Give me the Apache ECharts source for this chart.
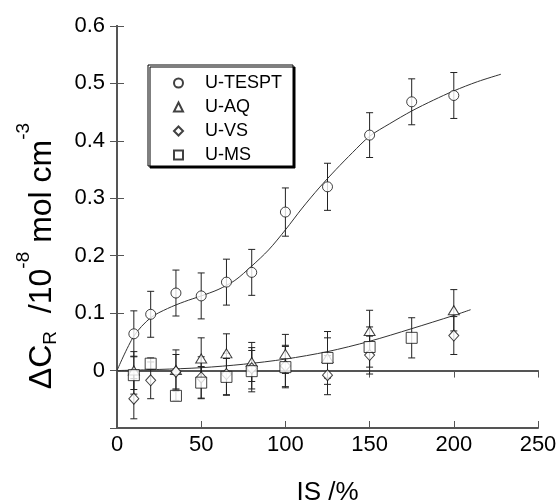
<!DOCTYPE html>
<html>
<head>
<meta charset="utf-8">
<script src="https://cdn.jsdelivr.net/npm/echarts@6/dist/echarts.min.js"></script>
<style>
  html, body { margin: 0; padding: 0; background: #fff; }
  #main { width: 558px; height: 502px; }
</style>
</head>
<body>
<div id="main"></div>
<script>
// data
var xTespt = [10, 20, 35, 50, 65, 80, 100, 125, 150, 175, 200];
var yTespt = [0.064, 0.098, 0.135, 0.130, 0.154, 0.171, 0.276, 0.320, 0.410, 0.468, 0.479];
var eTespt = [0.040, 0.040, 0.040, 0.040, 0.040, 0.040, 0.042, 0.041, 0.039, 0.040, 0.040];

var xAq = [10, 35, 50, 65, 80, 100, 125, 150, 200];
var yAq = [0.000, 0.001, 0.021, 0.030, 0.015, 0.029, 0.022, 0.069, 0.105];
var eAq = [0.033, 0.035, 0.036, 0.034, 0.034, 0.034, 0.046, 0.036, 0.036];

var xVs = [10, 20, 35, 50, 65, 80, 100, 125, 150, 200];
var yVs = [-0.049, -0.017, -0.002, -0.012, -0.006, 0.004, 0.008, -0.008, 0.027, 0.061];
var eVs = [0.035, 0.032, 0.030, 0.036, 0.036, 0.036, 0.036, 0.034, 0.033, 0.033];

var xMs = [10, 20, 35, 50, 65, 80, 100, 125, 150, 175];
var yMs = [-0.008, 0.012, -0.044, -0.021, -0.011, -0.001, 0.006, 0.022, 0.041, 0.057];
var eMs = [0.033, 0.010, 0.008, 0.028, 0.032, 0.036, 0.036, 0.035, 0.035, 0.035];

// fitted curves, points
var fitTesptX = [0, 10, 20, 30, 40, 50, 60, 70, 80, 90, 100, 110, 120, 130, 140, 150, 162, 175, 188, 200, 214, 228];
var fitTesptY = [0, 0.060, 0.092, 0.108, 0.120, 0.130, 0.141, 0.157, 0.182, 0.210, 0.245, 0.283, 0.318, 0.350, 0.380, 0.408, 0.430, 0.452, 0.471, 0.487, 0.503, 0.516];
var fitLowX = [0, 25, 50, 75, 100, 125, 150, 175, 200, 210];
var fitLowY = [0, 0.002, 0.005, 0.011, 0.020, 0.033, 0.051, 0.073, 0.096, 0.106];

var xTicks = [0, 50, 100, 150, 200, 250];
var yTicks = [-0.1, 0, 0.1, 0.2, 0.3, 0.4, 0.5, 0.6];

function pairs(xs, ys) {
    return xs.map(function (x, i) { return [x, ys[i]]; });
}
function bars(xs, ys, es) {
    return xs.map(function (x, i) { return [x, ys[i] - es[i], ys[i] + es[i]]; });
}

var errData = []
    .concat(bars(xTespt, yTespt, eTespt))
    .concat(bars(xAq, yAq, eAq))
    .concat(bars(xVs, yVs, eVs))
    .concat(bars(xMs, yMs, eMs));

var font = 'Liberation Sans, Arial, sans-serif';
var frame = '#555';

var myChart = echarts.init(document.getElementById('main'));

var markerStyle = { color: '#fff', borderColor: '#111', borderWidth: 1 };

var option = {
    backgroundColor: '#fff',
    animation: false,
    grid: { left: 117, right: 20, top: 26, bottom: 74, outerBoundsMode: 'none' },
    legend: {
        orient: 'vertical',
        left: 148,
        top: 65,
        padding: [9, 11, 2, 25],
        itemWidth: 9,
        itemHeight: 9,
        itemGap: 6,
        selectedMode: false,
        backgroundColor: '#fff',
        borderColor: '#000',
        borderWidth: 1,
        shadowColor: '#000',
        shadowBlur: 0,
        shadowOffsetX: 2,
        shadowOffsetY: 2,
        textStyle: { color: '#000', fontSize: 18, lineHeight: 18, fontFamily: font, padding: [0, 0, 0, 17] },
        data: ['U-TESPT', 'U-AQ', 'U-VS', 'U-MS']
    },
    xAxis: [{
        type: 'value',
        min: xTicks[0],
        max: xTicks[xTicks.length - 1],
        interval: 50,
        name: 'IS /%',
        nameLocation: 'middle',
        nameGap: 52,
        nameTextStyle: { color: '#000', fontSize: 26, fontFamily: font },
        axisLine: { onZero: false, lineStyle: { color: frame, width: 2 } },
        axisTick: { inside: true, length: 7, lineStyle: { color: frame, width: 1 } },
        axisLabel: { color: '#000', fontSize: 22, margin: 6, fontFamily: font },
        splitLine: { show: false }
    }, {
        type: 'value',
        position: 'top',
        min: xTicks[0],
        max: xTicks[xTicks.length - 1],
        interval: 50,
        axisLine: { lineStyle: { color: frame, width: 2 } },
        axisTick: { inside: true, length: 7, lineStyle: { color: frame, width: 1 } },
        axisLabel: { show: false },
        splitLine: { show: false }
    }],
    yAxis: [{
        type: 'value',
        min: yTicks[0],
        max: yTicks[yTicks.length - 1],
        interval: 0.1,
        axisLine: { onZero: false, lineStyle: { color: frame, width: 2 } },
        axisTick: { inside: true, length: 7, lineStyle: { color: frame, width: 1 } },
        axisLabel: {
            color: '#000', fontSize: 22, margin: 12, fontFamily: font,
            formatter: function (v) {
                if (v < -0.05) return '';
                if (Math.abs(v) < 1e-9) return '0';
                return v.toFixed(1);
            }
        },
        splitLine: { show: false }
    }, {
        type: 'value',
        position: 'right',
        min: yTicks[0],
        max: yTicks[yTicks.length - 1],
        interval: 0.1,
        axisLine: { lineStyle: { color: frame, width: 2 } },
        axisTick: { inside: true, length: 7, lineStyle: { color: frame, width: 1 } },
        axisLabel: { show: false },
        splitLine: { show: false }
    }],
    graphic: [{
        type: 'text',
        x: 42,
        y: 256,
        rotation: Math.PI / 2,
        style: {
            text: '{m|\u0394C}{sub|R}{m|  /10}{sup|-8}{m| mol cm}{sup|-3}',
            align: 'center',
            verticalAlign: 'middle',
            fill: '#000',
            rich: {
                m: { fontSize: 32, lineHeight: 55, fontFamily: font, fill: '#000' },
                sub: { fontSize: 19, lineHeight: 19, verticalAlign: 'bottom', padding: [0, 0, 9, 0], fontFamily: font, fill: '#000' },
                sup: { fontSize: 19, lineHeight: 19, verticalAlign: 'top', fontFamily: font, fill: '#000' }
            }
        }
    }],
    series: [
        {
            name: 'fitTespt',
            type: 'line',
            data: pairs(fitTesptX, fitTesptY),
            smooth: 0.3,
            showSymbol: false,
            silent: true,
            lineStyle: { color: '#333', width: 1 },
            z: 1
        },
        {
            name: 'fitLow',
            type: 'line',
            data: pairs(fitLowX, fitLowY),
            smooth: 0.3,
            showSymbol: false,
            silent: true,
            lineStyle: { color: '#333', width: 1 },
            z: 1
        },
        {
            name: 'errors',
            type: 'custom',
            data: errData,
            z: 2,
            renderItem: function (params, api) {
                var x = api.value(0);
                var top = api.coord([x, api.value(2)]);
                var bot = api.coord([x, api.value(1)]);
                var w = 3.5;
                var st = { stroke: '#222', lineWidth: 1 };
                return {
                    type: 'group',
                    children: [
                        { type: 'line', shape: { x1: top[0], y1: top[1], x2: bot[0], y2: bot[1] }, style: st },
                        { type: 'line', shape: { x1: top[0] - w, y1: top[1], x2: top[0] + w, y2: top[1] }, style: st },
                        { type: 'line', shape: { x1: bot[0] - w, y1: bot[1], x2: bot[0] + w, y2: bot[1] }, style: st }
                    ]
                };
            }
        },
        {
            name: 'U-TESPT', type: 'scatter', symbol: 'circle', symbolSize: 10,
            data: pairs(xTespt, yTespt), itemStyle: markerStyle, z: 3
        },
        {
            name: 'U-AQ', type: 'scatter', symbol: 'triangle', symbolSize: [11, 9],
            data: pairs(xAq, yAq), itemStyle: markerStyle, z: 3
        },
        {
            name: 'U-VS', type: 'scatter', symbol: 'diamond', symbolSize: [10, 11],
            data: pairs(xVs, yVs), itemStyle: markerStyle, z: 3
        },
        {
            name: 'U-MS', type: 'scatter', symbol: 'rect', symbolSize: 11,
            data: pairs(xMs, yMs), itemStyle: markerStyle, z: 3
        }
    ]
};

myChart.setOption(option);
</script>
</body>
</html>
